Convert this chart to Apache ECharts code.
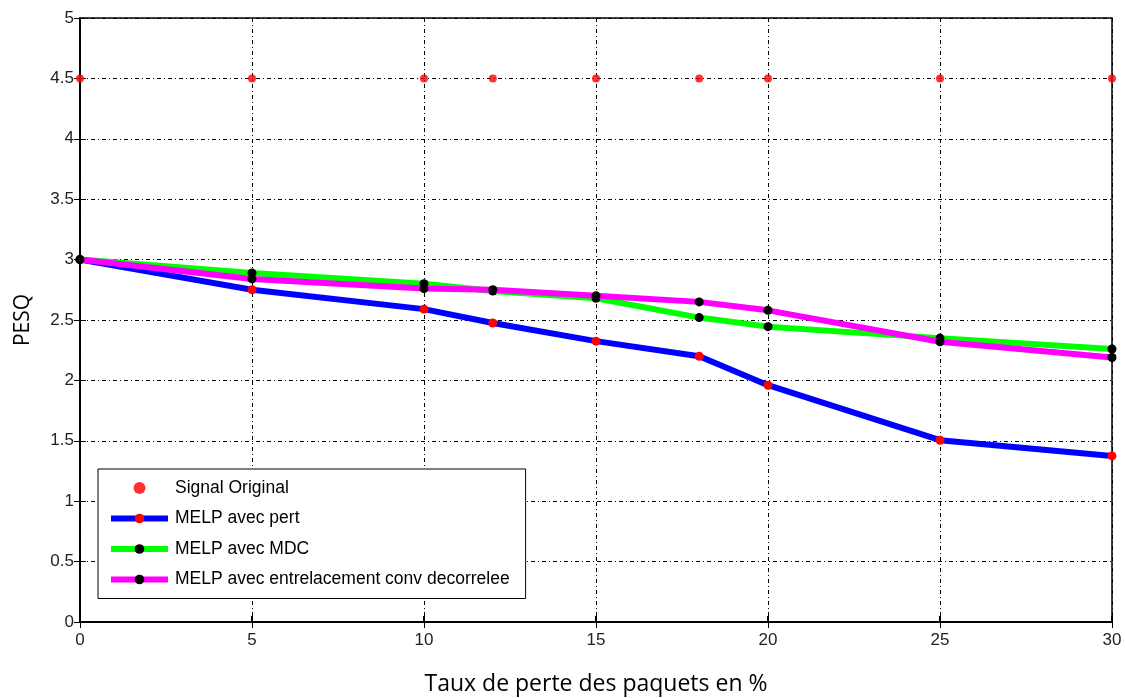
<!DOCTYPE html>
<html><head><meta charset="utf-8">
<script src="https://cdn.jsdelivr.net/npm/echarts@6/dist/echarts.min.js"></script>
<style>html,body{margin:0;padding:0;background:#fff}#c{width:1125px;height:698px}</style>
</head><body><div id="c"></div>
<script>
const xValues = [0, 5, 10, 12, 15, 18, 20, 25, 30];
const signalOriginal = [4.5, 4.5, 4.5, 4.5, 4.5, 4.5, 4.5, 4.5, 4.5];
const melpPert = [3.0, 2.75, 2.59, 2.475, 2.325, 2.2, 1.96, 1.505, 1.375];
const melpMDC = [3.0, 2.89, 2.80, 2.74, 2.68, 2.52, 2.445, 2.35, 2.26];
const melpEntrelac = [3.0, 2.84, 2.76, 2.75, 2.70, 2.65, 2.58, 2.32, 2.19];
const seriesNames = ['Signal Original', 'MELP avec pert', 'MELP avec MDC', 'MELP avec entrelacement conv decorrelee'];
const xTicks = [0, 5, 10, 15, 20, 25, 30];
const yTicks = [0, 0.5, 1, 1.5, 2, 2.5, 3, 3.5, 4, 4.5, 5];

const pairs = arr => xValues.map((x, i) => [x, arr[i]]);
const dashDot = [4, 3, 1, 3];
const tickFont = {fontFamily: 'Liberation Sans', fontSize: 17, color: '#222'};

const chart = echarts.init(document.getElementById('c'));
chart.setOption({
  animation: false,
  backgroundColor: '#fff',
  grid: {left: 80, right: 13, top: 18, bottom: 76, show: true, borderColor: '#000', borderWidth: 1.5,
         outerBoundsMode: 'none', containLabel: false},
  legend: {
    orient: 'vertical', left: 98, top: 469, padding: [10, 16, 10, 10],
    data: seriesNames,
    itemWidth: 57, itemHeight: 12, itemGap: 12.5,
    borderColor: '#000', borderWidth: 1, backgroundColor: '#fff',
    lineStyle: {width: 6},
    textStyle: {fontFamily: 'Liberation Sans', fontSize: 17.5, color: '#000', padding: [0, 0, 0, 2]}
  },
  xAxis: [{
    type: 'value', min: 0, max: 30, interval: 5,
    axisLine: {show: true, lineStyle: {color: '#000', width: 2}},
    axisTick: {inside: true, length: 6, lineStyle: {color: '#000', width: 2}},
    axisLabel: Object.assign({margin: 10, formatter: v => xTicks.includes(v) ? String(v) : ''}, tickFont),
    splitLine: {show: true, lineStyle: {color: '#000', width: 1, type: dashDot}},
    name: 'Taux de perte des paquets en %', nameLocation: 'middle', nameGap: 51,
    nameTextStyle: {fontFamily: 'Open Sans', fontSize: 23, color: '#000'}
  }, {
    type: 'value', min: 0, max: 30, interval: 5, position: 'top',
    axisLine: {show: true, lineStyle: {color: '#000', width: 1.5}},
    axisTick: {inside: true, length: 6, lineStyle: {color: '#000'}},
    axisLabel: {show: false}, splitLine: {show: false}
  }],
  yAxis: [{
    type: 'value', min: 0, max: 5, interval: 0.5,
    axisLine: {show: true, lineStyle: {color: '#000', width: 1.5}},
    axisTick: {inside: true, length: 6, lineStyle: {color: '#000'}},
    axisLabel: Object.assign({margin: 6, formatter: v => yTicks.includes(v) ? String(v) : ''}, tickFont),
    splitLine: {show: true, lineStyle: {color: '#000', width: 1, type: dashDot}},
    name: 'PESQ', nameLocation: 'middle', nameGap: 46, nameRotate: 90,
    nameTextStyle: {fontFamily: 'Open Sans', fontSize: 21, color: '#000'}
  }, {
    type: 'value', min: 0, max: 5, interval: 0.5, position: 'right',
    axisLine: {show: true, lineStyle: {color: '#000', width: 1.5}},
    axisTick: {inside: true, length: 6, lineStyle: {color: '#000'}},
    axisLabel: {show: false}, splitLine: {show: false}
  }],
  series: [{
    name: seriesNames[0], type: 'scatter', data: pairs(signalOriginal),
    symbol: 'circle', symbolSize: 8, itemStyle: {color: '#ff0000'}, z: 5
  }, {
    name: seriesNames[1], type: 'line', data: pairs(melpPert),
    symbol: 'circle', symbolSize: 9, showAllSymbol: true,
    lineStyle: {color: '#0000ff', width: 6}, itemStyle: {color: '#ff0000'}, z: 2
  }, {
    name: seriesNames[2], type: 'line', data: pairs(melpMDC),
    symbol: 'circle', symbolSize: 9, showAllSymbol: true,
    lineStyle: {color: '#00ff00', width: 6}, itemStyle: {color: '#000'}, z: 3
  }, {
    name: seriesNames[3], type: 'line', data: pairs(melpEntrelac),
    symbol: 'circle', symbolSize: 9, showAllSymbol: true,
    lineStyle: {color: '#ff00ff', width: 6}, itemStyle: {color: '#000'}, z: 4
  }]
});
</script></body></html>
